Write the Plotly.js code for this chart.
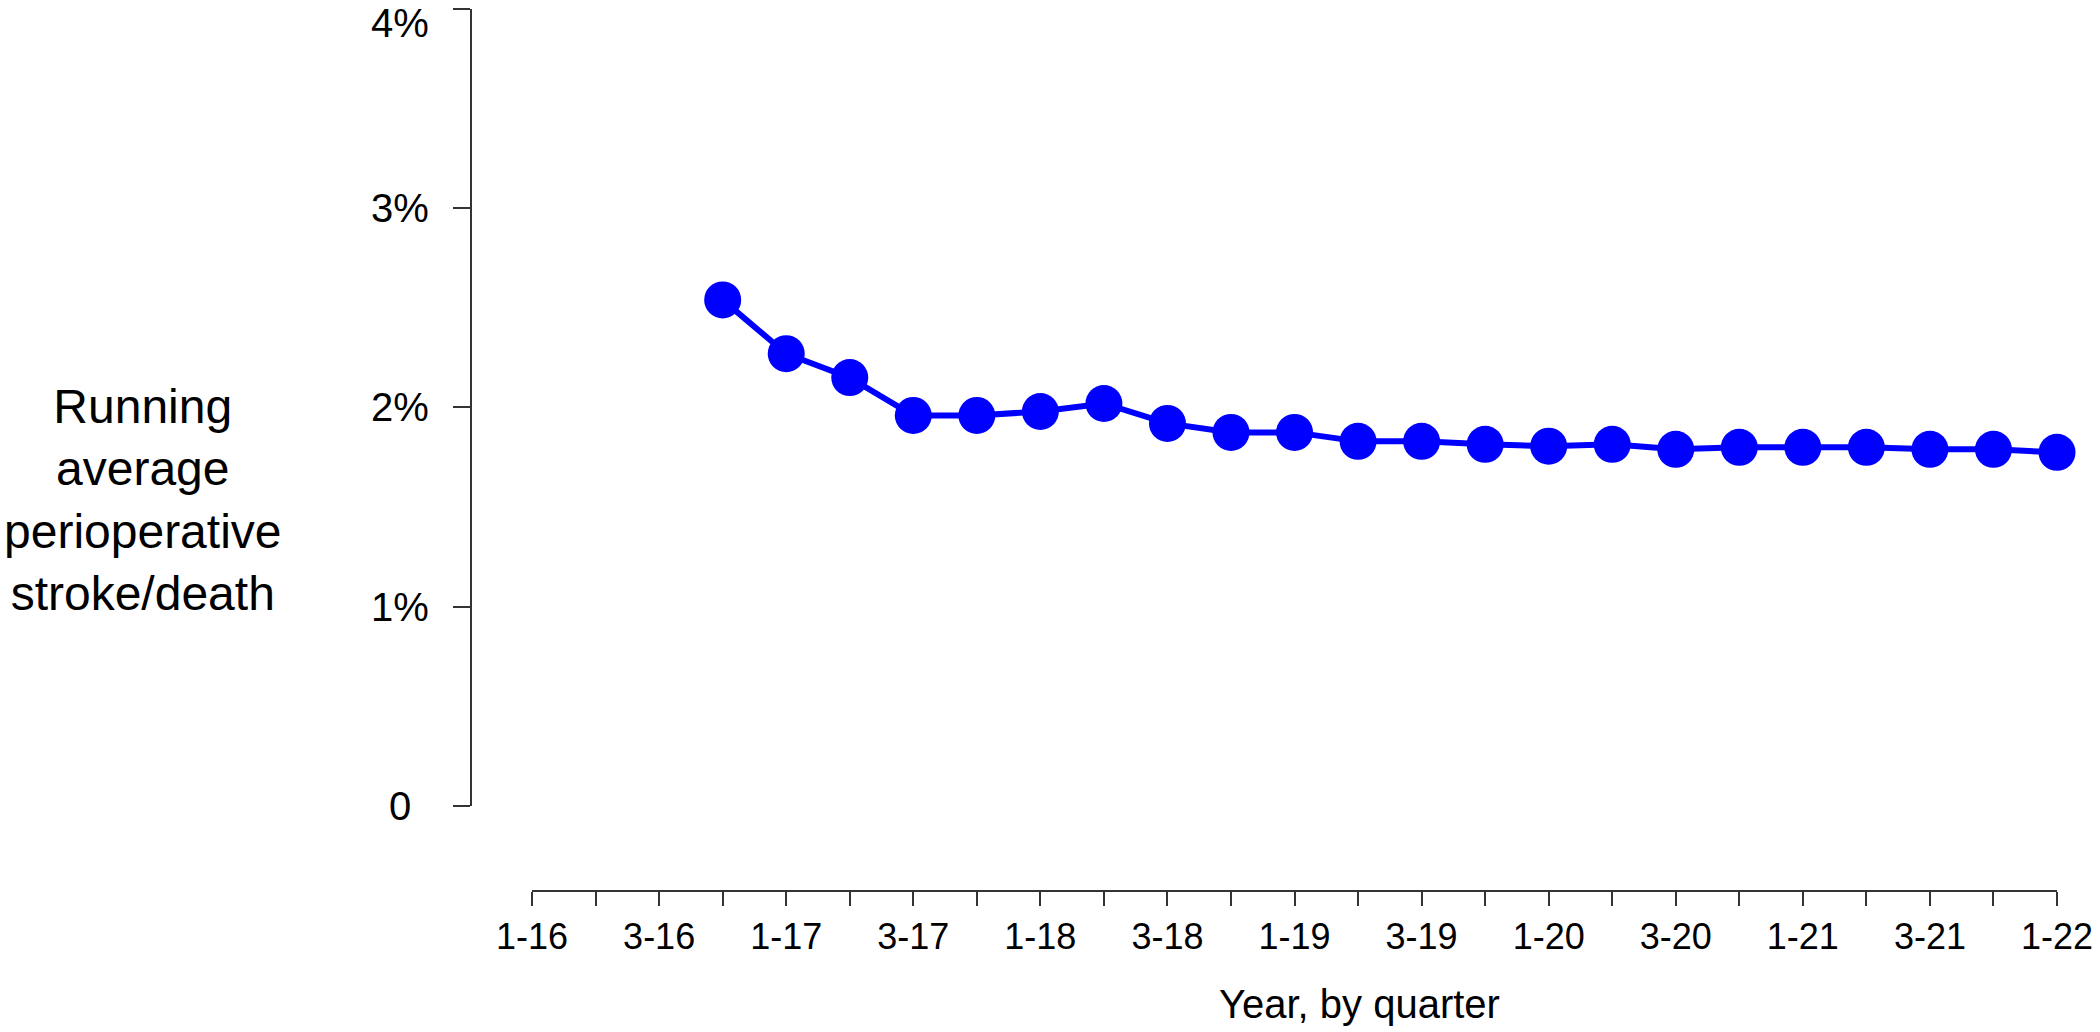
<!DOCTYPE html>
<html>
<head>
<meta charset="utf-8">
<script src="https://cdn.plot.ly/plotly-3.0.1.min.js"></script>
<style>
  html, body { margin: 0; padding: 0; background: #ffffff; }
  #chart { width: 2100px; height: 1032px; }
</style>
</head>
<body>
<div id="chart"></div>
<script>
// Quarters on the x axis (quarter-year)
const quarters = ['1-16','2-16','3-16','4-16','1-17','2-17','3-17','4-17','1-18','2-18','3-18','4-18',
                  '1-19','2-19','3-19','4-19','1-20','2-20','3-20','4-20','1-21','2-21','3-21','4-21','1-22'];
// Quarters that carry a data point
const dataQuarters = ['4-16','1-17','2-17','3-17','4-17','1-18','2-18','3-18','4-18','1-19','2-19',
                      '3-19','4-19','1-20','2-20','3-20','4-20','1-21','2-21','3-21','4-21','1-22'];
// Running average perioperative stroke/death, percent
const runningAvg = [2.54, 2.27, 2.15, 1.96, 1.96, 1.98, 2.02, 1.92, 1.875, 1.875, 1.83,
                    1.83, 1.815, 1.806, 1.815, 1.79, 1.80, 1.80, 1.80, 1.79, 1.79, 1.775];
// X tick labels shown (blank = unlabeled tick)
const xTickLabels = ['1-16','','3-16','','1-17','','3-17','','1-18','','3-18','',
                     '1-19','','3-19','','1-20','','3-20','','1-21','','3-21','','1-22'];
// Y ticks
const yTickVals = [0, 1, 2, 3, 4];
const yTickLabels = ['0', '1%', '2%', '3%', '4%'];

const FONT = 'Liberation Sans, Arial, sans-serif';

const trace = {
  type: 'scatter',
  mode: 'lines+markers',
  x: dataQuarters,
  y: runningAvg,
  cliponaxis: false,
  line: { color: '#0000FF', width: 6 },
  marker: { color: '#0000FF', size: 37, line: { width: 0 } },
  hoverinfo: 'x+y'
};

// Y tick labels are centred (as in the original), so they are drawn as annotations;
// the top one sits just below its tick so that it stays inside the picture.
const topVal = yTickVals[yTickVals.length - 1];
const yLabelAnnotations = yTickVals.map((v, i) => {
  const a = {
    text: yTickLabels[i],
    xref: 'paper', yref: 'y',
    x: 0, y: v,
    xanchor: 'center', yanchor: 'middle',
    xshift: -71,
    showarrow: false,
    font: { family: FONT, size: 40, color: '#000000' }
  };
  if (v === topVal) {
    a.yanchor = 'top';
    a.height = 40;
    a.valign = 'middle';
    a.yshift = 8;
  }
  return a;
});

const layout = {
  width: 2100,
  height: 1032,
  paper_bgcolor: '#ffffff',
  plot_bgcolor: '#ffffff',
  margin: { l: 471, r: 43, t: 9, b: 141, pad: 0 },
  showlegend: false,
  font: { family: FONT, color: '#000000' },
  xaxis: {
    type: 'category',
    categoryorder: 'array',
    categoryarray: quarters,
    range: [0, quarters.length - 1],
    domain: [0.0385, 1],
    anchor: 'free',
    position: 0,
    showgrid: false,
    zeroline: false,
    showline: true,
    linecolor: '#333333',
    linewidth: 2,
    ticks: 'outside',
    ticklen: 14,
    tickwidth: 2,
    tickcolor: '#333333',
    tickmode: 'array',
    tickvals: quarters,
    ticktext: xTickLabels,
    tickfont: { family: FONT, size: 36, color: '#000000' },
    fixedrange: true
  },
  yaxis: {
    range: [0, 4],
    domain: [0.0964, 1],
    anchor: 'free',
    position: 0,
    showgrid: false,
    zeroline: false,
    showline: true,
    linecolor: '#333333',
    linewidth: 2,
    ticks: 'outside',
    ticklen: 17,
    tickwidth: 2,
    tickcolor: '#333333',
    tickmode: 'array',
    tickvals: yTickVals,
    showticklabels: false,
    fixedrange: true
  },
  annotations: yLabelAnnotations.concat([
    {
      text: 'Running<br>average<br>perioperative<br>stroke/death',
      xref: 'paper', yref: 'paper',
      x: -0.2065, y: 0.4433,
      xanchor: 'center', yanchor: 'middle',
      align: 'center',
      showarrow: false,
      font: { family: FONT, size: 48, color: '#000000' }
    },
    {
      text: 'Year, by quarter',
      xref: 'paper', yref: 'paper',
      x: 0.5605, y: -0.128,
      xanchor: 'center', yanchor: 'middle',
      showarrow: false,
      font: { family: FONT, size: 40, color: '#000000' }
    }
  ])
};

Plotly.newPlot('chart', [trace], layout, { displayModeBar: false, staticPlot: true });
</script>
</body>
</html>
